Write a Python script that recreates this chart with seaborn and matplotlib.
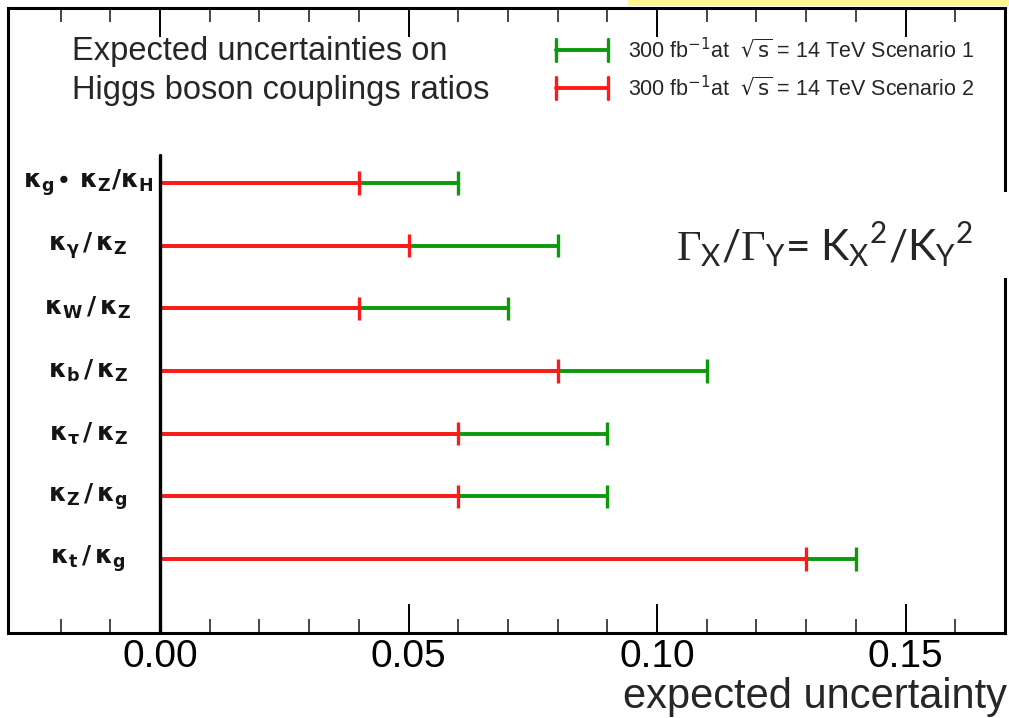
import pandas as pd
import seaborn as sns
import matplotlib.pyplot as plt
from matplotlib.lines import Line2D
from matplotlib.patches import Rectangle
from matplotlib.ticker import FixedLocator

# Dados
ratios = [r'κ$_\mathbf{g}\!\bullet\,$κ$_\mathbf{Z}$/κ$_\mathbf{H}$',
          r'κ$_\mathbf{\gamma}\,$/$\,$κ$_\mathbf{Z}$',
          r'κ$_\mathbf{W}\,$/$\,$κ$_\mathbf{Z}$',
          r'κ$_\mathbf{b}\,$/$\,$κ$_\mathbf{Z}$',
          r'κ$_\mathbf{\tau}\,$/$\,$κ$_\mathbf{Z}$',
          r'κ$_\mathbf{Z}\,$/$\,$κ$_\mathbf{g}$',
          r'κ$_\mathbf{t}\,$/$\,$κ$_\mathbf{g}$']
scenario1 = [0.06, 0.08, 0.07, 0.11, 0.09, 0.09, 0.14]
scenario2 = [0.04, 0.05, 0.04, 0.08, 0.06, 0.06, 0.13]
major_ticks = [0.00, 0.05, 0.10, 0.15]
tick_labels = ["0.00", "0.05", "0.10", "0.15"]
legend_labels = [r"300 fb$^\mathsf{-1}$at  $\sqrt{\mathsf{s}}$ = 14 TeV Scenario 1",
                 r"300 fb$^\mathsf{-1}$at  $\sqrt{\mathsf{s}}$ = 14 TeV Scenario 2"]

GREEN = "#0a9a0a"
RED = "#ff1a1a"

sns.set_theme(style="white")
plt.rcParams['font.family'] = ['Liberation Sans', 'DejaVu Sans']
plt.rcParams['mathtext.fontset'] = 'dejavusans'
plt.rcParams['mathtext.rm'] = 'Liberation Serif'
plt.rcParams['mathtext.sf'] = 'Lato'

W, H = 1009, 718
fig = plt.figure(figsize=(W / 100, H / 100), dpi=100)


def fx(x):
    return x / W


def fy(y):
    return 1 - y / H


ax = fig.add_axes([fx(8), fy(633), (1005 - 8) / W, (633 - 8) / H])

rows = list(range(len(ratios)))
df = pd.DataFrame({
    "row": rows * 2,
    "valor": scenario1 + scenario2,
    "cenario": ["Scenario 1"] * len(rows) + ["Scenario 2"] * len(rows),
})

# linhas horizontais (verde por baixo, vermelha por cima)
ax.hlines(rows, 0, scenario1, colors=GREEN, lw=2.8, zorder=2)
ax.hlines(rows, 0, scenario2, colors=RED, lw=2.8, zorder=3)

# marcas verticais no fim de cada barra
sns.scatterplot(data=df, x="valor", y="row", hue="cenario",
                palette={"Scenario 1": GREEN, "Scenario 2": RED},
                marker="|", s=280, linewidth=2.4, legend=False, ax=ax, zorder=4)

ax.set_xlim(-0.0306, 0.17)
ax.set_ylim(7.18, -2.79)
ax.axvline(0, ymin=0, ymax=(633 - 155) / 625, color="black", lw=2.4, zorder=5)

for i, lab in enumerate(ratios):
    ax.text(-0.0145, i, lab, ha="center", va="center", fontsize=18,
            family="DejaVu Sans", fontweight="bold", color="#151515")

ax.xaxis.set_major_locator(FixedLocator(major_ticks))
ax.set_xticklabels(tick_labels)
ax.xaxis.set_minor_locator(FixedLocator([-0.02, -0.01, 0.01, 0.02, 0.03, 0.04, 0.06, 0.07,
                                         0.08, 0.09, 0.11, 0.12, 0.13, 0.14, 0.16]))
ax.tick_params(axis="x", which="major", direction="in", top=True, bottom=True,
               length=21, width=1.4, labelsize=28, pad=4, colors="black")
ax.tick_params(axis="x", which="minor", direction="in", top=True, bottom=True,
               length=10, width=1.2)
ax.set_yticks([])
ax.set_xlabel("")
ax.set_ylabel("")
for sp in ax.spines.values():
    sp.set_color("black")
    sp.set_linewidth(2.2)

fig.text(fx(1007), fy(697), "expected uncertainty", ha="right", va="center", fontsize=30)

# título e legenda
fig.text(fx(72), fy(71), "Expected uncertainties on\nHiggs boson couplings ratios",
         ha="left", va="center", fontsize=23.5, linespacing=1.3)
for yy, col, lab in [(50, GREEN, legend_labels[0]), (88, RED, legend_labels[1])]:
    fig.add_artist(Line2D([fx(556), fx(608)], [fy(yy), fy(yy)], color=col, lw=2.8))
    for xx in (556, 608):
        fig.add_artist(Line2D([fx(xx), fx(xx)], [fy(yy - 11), fy(yy + 11)], color=col, lw=2.4))
    fig.text(fx(628), fy(yy), lab, ha="left", va="center", fontsize=15.5)

# caixa com a fórmula
fig.add_artist(Rectangle((fx(640), fy(278)), fx(W + 10 - 640), (278 - 192) / H,
                         facecolor="white", edgecolor="none", zorder=10))
fig.text(fx(676), fy(245),
         r"$\Gamma_\mathsf{X}$/$\Gamma_\mathsf{Y}$= K$_\mathsf{X}$$^\mathsf{2}$/K$_\mathsf{Y}$$^\mathsf{2}$",
         ha="left", va="center", fontsize=30.5, family="Lato", math_fontfamily="custom", zorder=11)

# faixa amarela no topo
fig.add_artist(Rectangle((fx(628), fy(6)), 1, 6 / H, facecolor="#fff68f", edgecolor="none"))

plt.savefig("out.png", dpi=100)
plt.close()
